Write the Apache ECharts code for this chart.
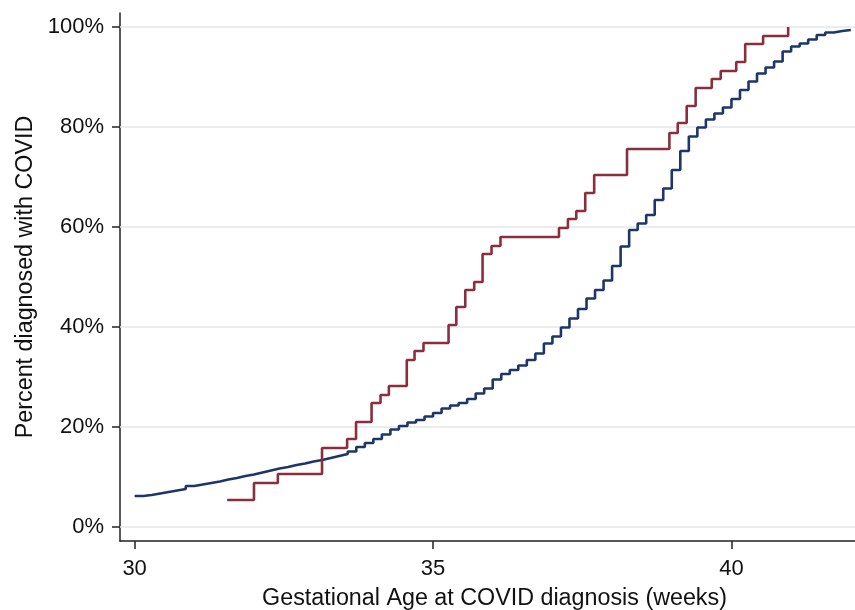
<!DOCTYPE html>
<html>
<head>
<meta charset="utf-8">
<script src="https://cdn.jsdelivr.net/npm/echarts@6/dist/echarts.min.js"></script>
<style>
html,body{margin:0;padding:0;background:#fff;}
#c{width:855px;height:610px;}
</style>
</head>
<body>
<div id="c"></div>
<script>
// Blue series: daily values (percent) from week 30 to week 42
const blueValues = [6.2, 6.4, 6.7, 7.0, 7.3, 7.6, 8.2, 8.5, 8.8, 9.1, 9.5, 9.8, 10.2, 10.5,
  10.9, 11.3, 11.7, 12.0, 12.4, 12.7, 13.1, 13.4, 13.8, 14.2, 14.6, 15.1, 16.0, 16.8,
  17.6, 18.5, 19.5, 20.2, 20.9, 21.4, 22.1, 22.8, 23.7, 24.3, 24.8, 25.6, 26.7, 27.7,
  29.5, 30.6, 31.4, 32.3, 33.4, 34.7, 36.7, 38.1, 39.9, 41.7, 43.6, 45.7, 47.4, 49.3,
  52.2, 56.1, 59.4, 60.7, 62.4, 65.4, 67.7, 71.4, 75.2, 78.1, 79.9, 81.5, 82.7, 83.9,
  85.6, 87.4, 89.1, 90.7, 91.9, 93.1, 95.1, 96.1, 96.7, 97.5, 98.4, 98.9, 99.2, 99.4, 99.5];
const blueWeeks = blueValues.map((_, i) => 30 + i / 7);

// Red series: step positions (weeks) and cumulative percent
const redWeeks = [31.55, 32.0, 32.4, 33.14, 33.56, 33.71, 33.97, 34.12, 34.26, 34.56, 34.69,
  34.84, 35.26, 35.39, 35.54, 35.69, 35.83, 35.98, 36.13, 37.11, 37.26, 37.40, 37.55, 37.70,
  38.25, 38.96, 39.10, 39.25, 39.40, 39.67, 39.82, 40.08, 40.23, 40.53, 40.95];
const redValues = [5.4, 8.8, 10.6, 15.8, 17.6, 21.0, 24.8, 26.4, 28.2, 33.4, 35.2,
  36.8, 40.4, 44.0, 47.4, 49.0, 54.6, 56.2, 58.0, 59.8, 61.6, 63.2, 66.8, 70.4,
  75.6, 78.8, 80.8, 84.2, 87.8, 89.6, 91.2, 93.0, 96.6, 98.2, 100];

const xTicks = [30, 35, 40];
const yTicks = [0, 20, 40, 60, 80, 100];

const font = '"Liberation Sans", Arial, sans-serif';
const chart = echarts.init(document.getElementById('c'), null, {renderer: 'canvas'});
chart.setOption({
  animation: false,
  backgroundColor: '#fff',
  grid: {left: 120, right: 0, top: 13, bottom: 69, containLabel: false, outerBoundsMode: 'none'},
  xAxis: {
    type: 'value', min: 29.755, max: 42.07,
    name: 'Gestational Age at COVID diagnosis (weeks)',
    nameLocation: 'middle', nameGap: 46,
    nameTextStyle: {fontFamily: font, fontSize: 23.3, color: '#111', padding: [0, 0, 0, 14]},
    axisLine: {show: true, onZero: false, lineStyle: {color: '#222', width: 1.5}},
    axisTick: {show: true, length: 8, lineStyle: {color: '#222', width: 1.5}, customValues: xTicks},
    axisLabel: {customValues: xTicks, margin: 17, fontFamily: font, fontSize: 22, color: '#111'},
    splitLine: {show: false}
  },
  yAxis: {
    type: 'value', min: -2.8, max: 102.8,
    name: 'Percent diagnosed with COVID',
    nameLocation: 'middle', nameGap: 80,
    nameTextStyle: {fontFamily: font, fontSize: 23.3, color: '#111'},
    axisLine: {show: true, onZero: false, lineStyle: {color: '#222', width: 1.5}},
    axisTick: {show: true, length: 8, lineStyle: {color: '#222', width: 1.5}, customValues: yTicks},
    axisLabel: {customValues: yTicks, margin: 16, fontFamily: font, fontSize: 22, color: '#111',
      formatter: v => v + '%'},
    splitLine: {show: false}
  },
  series: [
    {
      type: 'line', name: 'grid', data: [], silent: true, z: 1,
      markLine: {
        silent: true, symbol: ['none', 'none'], z: 1, animation: false,
        label: {show: false},
        lineStyle: {color: '#e6e6e6', width: 1.5, type: 'solid'},
        emphasis: {disabled: true},
        data: yTicks.map(v => ({yAxis: v}))
      }
    },
    {
      type: 'line', name: 'Blue', step: 'end', showSymbol: false, z: 3,
      data: blueWeeks.map((w, i) => [w, blueValues[i]]),
      lineStyle: {color: '#1d3669', width: 2.6}, itemStyle: {color: '#1d3669'}
    },
    {
      type: 'line', name: 'Red', step: 'end', showSymbol: false, z: 4,
      data: redWeeks.map((w, i) => [w, redValues[i]]),
      lineStyle: {color: '#8a2e3e', width: 2.6}, itemStyle: {color: '#8a2e3e'}
    }
  ]
});
</script>
</body>
</html>
